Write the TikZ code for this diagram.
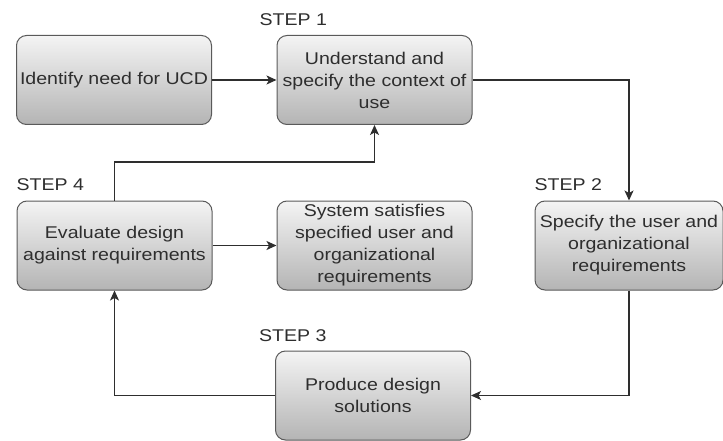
\documentclass[tikz,border=0pt]{standalone}
\usepackage{fontspec}
\setmainfont{Liberation Sans}[FakeStretch=1.15]
\usetikzlibrary{arrows.meta}
\definecolor{inkgray}{HTML}{2E2E2E}
\definecolor{edgegray}{HTML}{5A5A5A}
\definecolor{topshade}{HTML}{F4F4F4}
\definecolor{bottomshade}{HTML}{B4B4B4}
\begin{document}
\begin{tikzpicture}[
  x=1pt, y=-1pt,
  box/.style={draw=edgegray, line width=1pt, rounded corners=10pt,
    top color=topshade, bottom color=bottomshade,
    minimum width=195pt, minimum height=89pt, inner sep=0pt,
    align=center, text=inkgray, font=\fontsize{17}{22}\selectfont},
  steplabel/.style={anchor=south west, inner sep=0pt, text=inkgray,
    font=\fontsize{17}{20}\selectfont},
  link/.style={draw=inkgray, line width=1.3pt,
    -{Stealth[length=10pt,width=9pt,inset=2.5pt]}}
]
\useasboundingbox (0,0) rectangle (723,441);

% --- boxes ---
\node[box] (need) at (114,80) {Identify need for UCD};
\node[box] (ctx) at (374.5,80) {Understand and\\specify the context of\\use};
\node[box, minimum width=188pt] (spec) at (629,245.5) {Specify the user and\\organizational\\requirements};
\node[box] (sys) at (374.5,245.5) {System satisfies\\specified user and\\organizational\\requirements};
\node[box] (eval) at (114.5,245.5) {Evaluate design\\against requirements};
\node[box] (prod) at (373,395.5) {Produce design\\solutions};

% --- step labels ---
\node[steplabel] (s1) at ([xshift=-17pt, yshift=9pt]ctx.north west) {STEP 1};
\node[steplabel] (s2) at ([yshift=10pt]spec.north west) {STEP 2};
\node[steplabel] (s3) at ([xshift=-16pt, yshift=9pt]prod.north west) {STEP 3};
\node[steplabel] (s4) at ([yshift=10pt]eval.north west) {STEP 4};

% --- connectors ---
\coordinate (turn) at (114.5,162);
\draw[link] (need) -- (ctx);
\draw[link] (ctx.east) -| (spec.north);
\draw[link] (spec.south) |- (prod.east);
\draw[link] (prod.west) -| (eval.south);
\draw[link] (eval.north) -- (eval.north |- turn) -| (ctx.south);
\draw[link] (eval) -- (sys);

\end{tikzpicture}
\end{document}
